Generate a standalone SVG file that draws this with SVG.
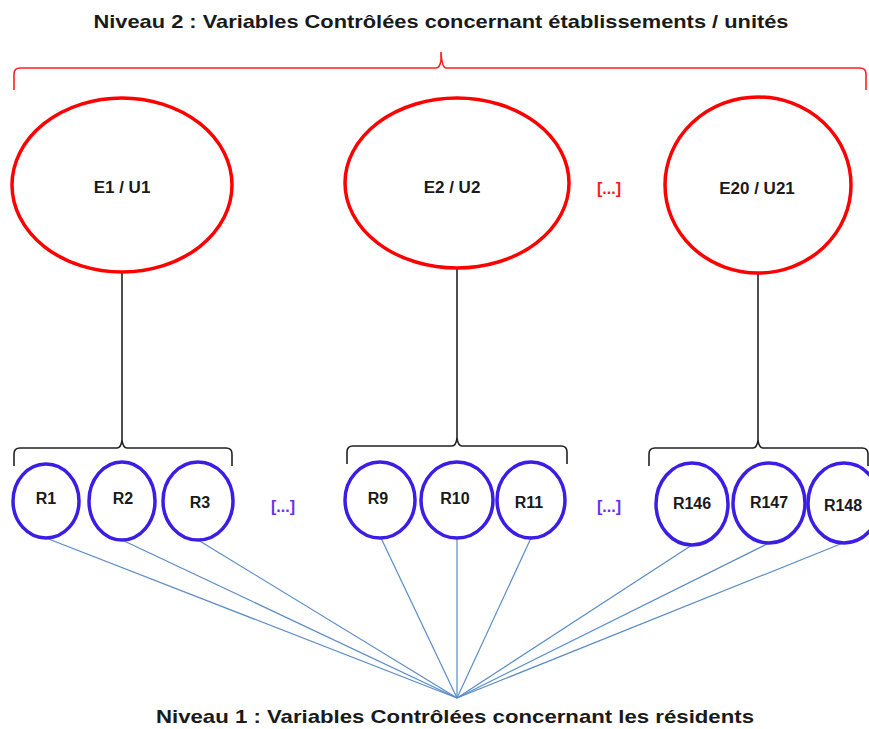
<svg xmlns="http://www.w3.org/2000/svg" width="869" height="729" viewBox="0 0 869 729">
<style>
.title{font-family:"Liberation Sans Narrow","Liberation Sans",Arial,sans-serif;font-weight:bold;font-size:19px;fill:#1a1a1a;text-anchor:middle}
.lbl{font-family:"Liberation Sans",Arial,sans-serif;font-weight:bold;font-size:16px;fill:#1a1a1a;text-anchor:middle}
.big{font-size:17px}
.ell{fill:#fff;stroke:#ff0000;stroke-width:3.5}
.res{fill:#fff;stroke:#3b1ee6;stroke-width:3.5}
.dotsR{font-family:"Liberation Sans",Arial,sans-serif;font-weight:bold;font-size:16px;fill:#ff1a1a;text-anchor:middle}
.dotsB{font-family:"Liberation Sans",Arial,sans-serif;font-weight:bold;font-size:16px;fill:#6a2ff0;text-anchor:middle}
.blk{fill:none;stroke:#222;stroke-width:1.6}
.blue{stroke:#5b8cc6;stroke-width:1.2}
</style>
<text class="title" x="441" y="28" textLength="695" lengthAdjust="spacingAndGlyphs">Niveau 2 : Variables Contrôlées concernant établissements / unités</text>
<path d="M14,90 L14,74 Q14,68 20,68 L436,68 Q440,68 441,60 L441,52 Q442,68 446,68 L860,68 Q866,68 866,74 L866,90" fill="none" stroke="#ff2020" stroke-width="1.6"/>
<g id="connectors">
<line class="blk" x1="122" y1="272" x2="122" y2="440"/>
<line class="blk" x1="457" y1="268" x2="457" y2="440"/>
<line class="blk" x1="758" y1="273" x2="758" y2="440"/>
<path class="blk" d="M14,466 L14,454 Q14,448 20,448 L117,448 Q121,448 122,440 Q123,448 127,448 L226,448 Q232,448 232,454 L232,466"/>
<path class="blk" d="M347,464 L347,452 Q347,446 353,446 L452,446 Q456,446 457,438 Q458,446 462,446 L561,446 Q567,446 567,452 L567,464"/>
<path class="blk" d="M649,466 L649,454 Q649,448 655,448 L753,448 Q757,448 758,440 Q759,448 763,448 L862,448 Q868,448 868,454 L868,466"/>
<line class="blue" x1="46" y1="538" x2="457" y2="698"/>
<line class="blue" x1="122" y1="540" x2="457" y2="698"/>
<line class="blue" x1="198" y1="540" x2="457" y2="698"/>
<line class="blue" x1="381" y1="538" x2="457" y2="698"/>
<line class="blue" x1="457" y1="538" x2="457" y2="698"/>
<line class="blue" x1="531" y1="538" x2="457" y2="698"/>
<line class="blue" x1="692" y1="545" x2="457" y2="698"/>
<line class="blue" x1="769" y1="543" x2="457" y2="698"/>
<line class="blue" x1="843" y1="543" x2="457" y2="698"/>
</g>
<g id="E1"><ellipse class="ell" cx="122" cy="185" rx="110" ry="87"/><text class="lbl big" x="122" y="193">E1 / U1</text></g>
<g id="E2"><ellipse class="ell" cx="457" cy="183" rx="112" ry="85"/><text class="lbl big" x="452" y="193">E2 / U2</text></g>
<g id="E20"><ellipse class="ell" cx="758" cy="185" rx="93" ry="88"/><text class="lbl big" x="757" y="194">E20 / U21</text></g>
<text class="dotsR" x="609" y="194">[...]</text>
<g id="R1"><ellipse class="res" cx="46" cy="501" rx="33" ry="37"/><text class="lbl" x="46" y="504">R1</text></g>
<g id="R2"><ellipse class="res" cx="122" cy="501" rx="33" ry="39"/><text class="lbl" x="123" y="504">R2</text></g>
<g id="R3"><ellipse class="res" cx="198" cy="501" rx="35" ry="39"/><text class="lbl" x="200" y="508">R3</text></g>
<text class="dotsB" x="283" y="512">[...]</text>
<g id="R9"><ellipse class="res" cx="380" cy="500" rx="35" ry="38"/><text class="lbl" x="378" y="504">R9</text></g>
<g id="R10"><ellipse class="res" cx="457" cy="500" rx="36" ry="38"/><text class="lbl" x="455" y="504">R10</text></g>
<g id="R11"><ellipse class="res" cx="531" cy="500" rx="34" ry="38"/><text class="lbl" x="529" y="508">R11</text></g>
<text class="dotsB" x="609" y="512">[...]</text>
<g id="R146"><ellipse class="res" cx="692" cy="504" rx="36" ry="41"/><text class="lbl" x="692" y="509">R146</text></g>
<g id="R147"><ellipse class="res" cx="769" cy="503" rx="36" ry="40"/><text class="lbl" x="769" y="508">R147</text></g>
<g id="R148"><ellipse class="res" cx="844" cy="503" rx="36" ry="40"/><text class="lbl" x="843" y="511">R148</text></g>
<text class="title" x="455" y="723" textLength="598" lengthAdjust="spacingAndGlyphs">Niveau 1 : Variables Contrôlées concernant les résidents</text>
</svg>
